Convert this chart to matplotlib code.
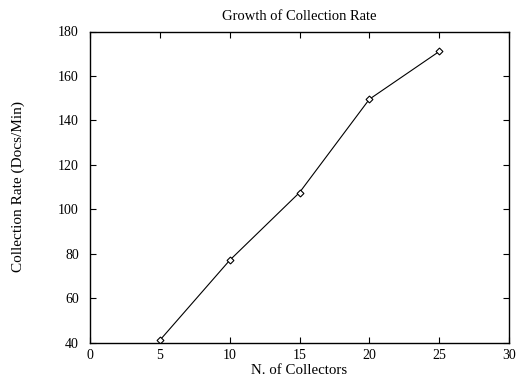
import matplotlib
matplotlib.use('Agg')
import matplotlib.pyplot as plt

# Data
collectors = [5, 10, 15, 20, 25]
rate = [41, 77, 107.5, 149.5, 171]
x_ticks = [0, 5, 10, 15, 20, 25, 30]
y_ticks = [40, 60, 80, 100, 120, 140, 160, 180]

plt.rcParams['font.family'] = ['Liberation Serif', 'DejaVu Serif']
plt.rcParams['font.size'] = 10

fig = plt.figure(figsize=(5.17, 3.79), dpi=100)
ax = fig.add_axes([90 / 517, 1 - 342.5 / 379, (509 - 90) / 517, (342.5 - 31.5) / 379])

ax.plot(collectors, rate, color='black', linewidth=0.8, marker='D', markersize=3.5,
        markerfacecolor='white', markeredgecolor='black', markeredgewidth=0.8)

ax.set_xlim(0, 30)
ax.set_ylim(40, 180)
ax.set_xticks(x_ticks)
ax.set_yticks(y_ticks)
ax.tick_params(direction='in', top=True, right=True, length=4, width=0.8)
ax.tick_params(axis='y', pad=8)
ax.tick_params(axis='x', pad=5)
for s in ax.spines.values():
    s.set_linewidth(1.0)

ax.set_title('Growth of Collection Rate', fontsize=10.5, pad=8)
ax.set_xlabel('N. of Collectors', fontsize=10.7, labelpad=1)
ax.set_ylabel('Collection Rate (Docs/Min)', fontsize=11, labelpad=24)

fig.savefig('out.png', dpi=100)
